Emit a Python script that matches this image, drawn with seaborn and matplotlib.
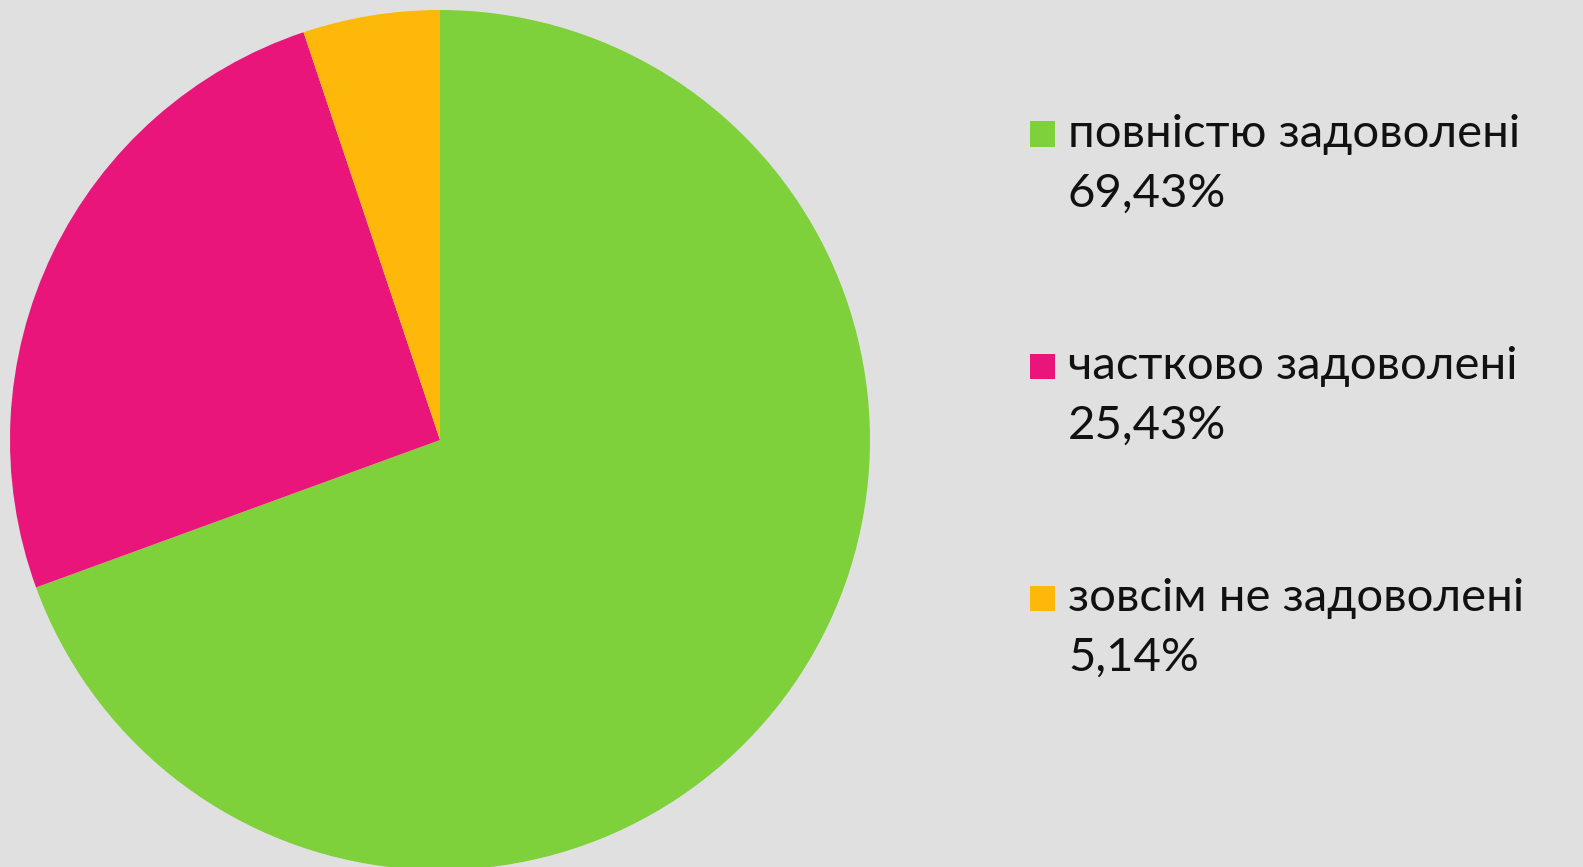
import numpy as np
from matplotlib import pyplot as plt
from matplotlib.patches import Rectangle
import seaborn as sns

# data
categories = ['повністю задоволені', 'частково задоволені', 'зовсім не задоволені']
shares = [69.43, 25.43, 5.14]
pct_labels = ['69,43%', '25,43%', '5,14%']
colors = ['#7FD13B', '#EA157A', '#FEB80A']

bg = '#E0E0E0'
sns.set_theme(style='white', rc={'figure.facecolor': bg, 'axes.facecolor': bg})
plt.rcParams['font.family'] = ['Lato', 'DejaVu Sans']

W, H = 1583, 867
fig = plt.figure(figsize=(W / 100, H / 100), dpi=100)

# pie: centre (440, 440) px from top-left, radius 430 px
cx, cy, r = 440, 440, 430
ax = fig.add_axes([(cx - r) / W, (H - cy - r) / H, 2 * r / W, 2 * r / H])
ax.pie(shares, colors=sns.color_palette(colors), startangle=90, counterclock=False,
       radius=1, wedgeprops={'linewidth': 0})
ax.set_xlim(-1, 1)
ax.set_ylim(-1, 1)
ax.set_aspect('equal')
ax.axis('off')

# legend, built by hand so the square sits on the first line
sq = 25
x_sq, x_txt = 1030, 1068
y_first = 134
step = 232
line_gap = 60
for i, (cat, pct, col) in enumerate(zip(categories, pct_labels, colors)):
    y = y_first + i * step
    fig.patches.append(Rectangle((x_sq / W, (H - y - sq / 2) / H), sq / W, sq / H,
                                 transform=fig.transFigure, facecolor=col, edgecolor='none'))
    fig.text(x_txt / W, (H - y) / H, cat, fontsize=34, color='#111111', va='center', ha='left')
    fig.text(x_txt / W, (H - y - line_gap) / H, pct, fontsize=34, color='#111111', va='center', ha='left')

fig.savefig('out.png', dpi=100, facecolor=bg)
